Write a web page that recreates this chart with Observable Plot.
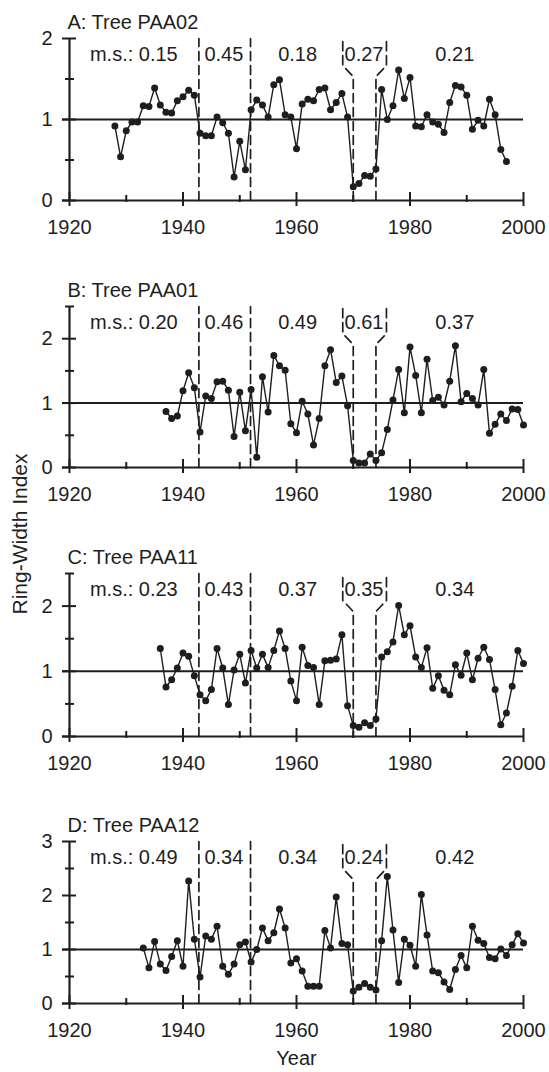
<!DOCTYPE html>
<html>
<head>
<meta charset="utf-8">
<script src="https://cdn.jsdelivr.net/npm/d3@7"></script>
<script src="https://cdn.jsdelivr.net/npm/@observablehq/plot@0.6"></script>
<style>
  html, body { margin: 0; padding: 0; background: #fff; }
  #wrap { position: relative; width: 549px; height: 1072px; overflow: hidden;
          font-family: "Liberation Sans", Arial, sans-serif; color: #222; }
  .panel { position: absolute; left: 0; }
  #ylab { position: absolute; left: 20px; top: 534px; transform: translate(-50%, -50%) rotate(-90deg);
          font-size: 21px; white-space: nowrap; color: #222; }
</style>
</head>
<body>
<div id="wrap"><div id="ylab">Ring-Width Index</div></div>
<script>
// ---- data ----
const startA = 1928;
const valuesA = [0.92,0.54,0.86,0.97,0.97,1.17,1.16,1.39,1.18,1.09,
                 1.08,1.23,1.28,1.36,1.30,0.83,0.80,0.80,1.03,0.96,
                 0.83,0.29,0.73,0.38,1.12,1.24,1.18,1.03,1.43,1.49,
                 1.06,1.03,0.64,1.19,1.25,1.23,1.37,1.39,1.12,1.21,
                 1.32,1.03,0.17,0.21,0.31,0.30,0.39,1.37,1.00,1.17,
                 1.61,1.26,1.52,0.92,0.91,1.06,0.97,0.94,0.84,1.21,
                 1.42,1.40,1.30,0.88,0.99,0.92,1.25,1.06,0.63,0.48];
const startB = 1937;
const valuesB = [0.87,0.76,0.80,1.19,1.47,1.24,0.55,1.11,1.07,1.33,
                 1.34,1.20,0.48,1.17,0.57,1.21,0.16,1.41,0.86,1.74,
                 1.58,1.51,0.68,0.54,1.03,0.83,0.35,0.76,1.58,1.83,
                 1.32,1.42,0.96,0.11,0.07,0.07,0.21,0.11,0.23,0.59,
                 1.05,1.52,0.85,1.87,1.43,0.85,1.68,1.04,1.09,0.97,
                 1.34,1.89,1.02,1.15,1.07,0.97,1.52,0.53,0.67,0.83,
                 0.73,0.91,0.90,0.66];
const startC = 1936;
const valuesC = [1.35,0.76,0.87,1.05,1.28,1.23,0.93,0.64,0.55,0.72,
                 1.35,1.05,0.49,1.02,1.26,0.82,1.32,1.05,1.26,1.06,
                 1.32,1.62,1.35,0.85,0.55,1.37,1.09,1.06,0.49,1.16,
                 1.17,1.19,1.56,0.47,0.17,0.14,0.21,0.17,0.27,1.22,
                 1.30,1.45,2.01,1.56,1.70,1.22,1.06,1.36,0.74,0.93,
                 0.71,0.64,1.10,0.94,1.28,0.87,1.20,1.37,1.18,0.72,
                 0.18,0.36,0.77,1.32,1.12];
const startD = 1933;
const valuesD = [1.03,0.66,1.15,0.73,0.61,0.87,1.16,0.69,2.27,1.19,
                 0.49,1.25,1.19,1.43,0.69,0.54,0.73,1.09,1.14,0.77,
                 1.00,1.40,1.16,1.31,1.75,1.40,0.75,0.83,0.60,0.32,
                 0.32,0.32,1.35,1.03,1.97,1.11,1.09,0.23,0.30,0.37,
                 0.30,0.25,1.16,2.35,1.36,0.39,1.19,1.08,0.69,2.02,
                 1.27,0.60,0.57,0.40,0.26,0.63,0.89,0.66,1.43,1.17,
                 1.11,0.85,0.83,1.01,0.89,1.09,1.29,1.12];

const titles = ["A: Tree PAA02", "B: Tree PAA01", "C: Tree PAA11", "D: Tree PAA12"];
const msA = ["m.s.: 0.15", "0.45", "0.18", "0.27", "0.21"];
const msB = ["m.s.: 0.20", "0.46", "0.49", "0.61", "0.37"];
const msC = ["m.s.: 0.23", "0.43", "0.37", "0.35", "0.34"];
const msD = ["m.s.: 0.49", "0.34", "0.34", "0.24", "0.42"];
const msYears = [1923.6, 1947.2, 1960.2, 1971.9, 1987.9];
const boundaryYears = [1942.8, 1951.9, 1970, 1974];
const xMajor = [1920, 1940, 1960, 1980, 2000];
const xMinor = [1930, 1950, 1970, 1990];
const yMaxes = [2, 2.5, 2.5, 3];
const yMajorA = [0, 1, 2], yMinorA = [0.5, 1.5];
const yMajorB = [0, 1, 2], yMinorB = [0.5, 1.5, 2.5];
const yMajorC = [0, 1, 2], yMinorC = [0.5, 1.5, 2.5];
const yMajorD = [0, 1, 2, 3], yMinorD = [0.5, 1.5, 2.5];

// ---- layout (pixels) ----
const layouts = [
  {svgTop: 0,   top: 38,  zero: 200,  height: 267},
  {svgTop: 267, top: 306, zero: 467,  height: 267},
  {svgTop: 534, top: 573, zero: 736,  height: 267},
  {svgTop: 801, top: 841, zero: 1003, height: 271}
];
const INK = "#1e1e1e";

function makePanel(k, start, values, ms, yMajor, yMinor, withYear) {
  const L = layouts[k];
  const yMax = yMaxes[k];
  const ppu = (L.zero - L.top) / yMax;
  const ppy = (523 - 69) / 80;
  const series = values.map((v, i) => ({year: start + i, v}));
  // dashed boundary lines; the middle pair forms a widening bracket near the top
  const dash = [];
  boundaryYears.forEach((b, j) => {
    if (j === 2 || j === 3) {
      const s = j === 2 ? -1 : 1;
      const off = s * 10.5 / ppy;
      dash.push({id: j, x: b, y: 0});
      dash.push({id: j, x: b, y: yMax - 38 / ppu});
      dash.push({id: j, x: b + off, y: yMax - 27 / ppu});
      dash.push({id: j, x: b + off, y: yMax - 1 / ppu});
    } else {
      dash.push({id: j, x: b, y: 0});
      dash.push({id: j, x: b, y: yMax});
    }
  });
  const msFirst = [{x: msYears[0], t: ms[0]}];
  const msRest = ms.slice(1).map((t, i) => ({x: msYears[i + 1], t}));

  const marks = [
    Plot.axisX({ticks: xMajor, tickSize: 0, tickPadding: 19, label: null, tickFormat: d => String(d)}),
    Plot.axisY({ticks: yMajor, tickSize: 0, tickPadding: 17, label: null, tickFormat: d => String(d)}),
    Plot.line(dash, {x: "x", y: "y", z: "id", stroke: INK, strokeWidth: 1.7, strokeDasharray: "9,5"}),
    Plot.ruleY([0, 1], {x1: 1920, x2: 2000, insetLeft: -7, stroke: INK, strokeWidth: 2}),
    Plot.ruleX([1920], {y1: 0, y2: yMax, stroke: INK, strokeWidth: 2.2}),
    Plot.ruleY(yMajor, {x1: 1920, x2: 1920, insetLeft: -7, insetRight: -7, stroke: INK, strokeWidth: 2}),
    Plot.ruleY(yMinor, {x1: 1920, x2: 1920, insetLeft: -4, insetRight: -5, stroke: INK, strokeWidth: 2}),
    Plot.ruleX(xMajor, {y1: 0, y2: 0, insetTop: -8, insetBottom: -6, stroke: INK, strokeWidth: 2}),
    Plot.ruleX(xMinor, {y1: 0, y2: 0, insetTop: -5, insetBottom: -2, stroke: INK, strokeWidth: 2}),
    Plot.line(series, {x: "year", y: "v", stroke: INK, strokeWidth: 1.4}),
    Plot.dot(series, {x: "year", y: "v", r: 3.5, fill: INK, stroke: "none"}),
    Plot.text(msFirst, {x: "x", text: "t", frameAnchor: "top", dy: 16, lineAnchor: "middle", textAnchor: "start", fill: INK}),
    Plot.text(msRest, {x: "x", text: "t", frameAnchor: "top", dy: 16, lineAnchor: "middle", textAnchor: "middle", fill: INK}),
    Plot.text([titles[k]], {text: d => d, frameAnchor: "top-left", dx: -2, dy: -16, lineAnchor: "middle", textAnchor: "start", fill: INK})
  ];
  if (withYear) {
    marks.push(Plot.text(["Year"], {text: d => d, frameAnchor: "bottom", dy: 55, lineAnchor: "middle", fill: INK}));
  }
  const svg = Plot.plot({
    width: 549,
    height: L.height,
    marginLeft: 69,
    marginRight: 26,
    marginTop: L.top - L.svgTop,
    marginBottom: L.svgTop + L.height - L.zero,
    x: {domain: [1920, 2000], label: null},
    y: {domain: [0, yMax], label: null},
    style: {fontFamily: "'Liberation Sans', Arial, sans-serif", fontSize: "20px", color: INK, background: "transparent", overflow: "visible"},
    marks
  });
  const holder = document.createElement("div");
  holder.className = "panel";
  holder.style.top = L.svgTop + "px";
  holder.appendChild(svg);
  document.getElementById("wrap").appendChild(holder);
}

makePanel(0, startA, valuesA, msA, yMajorA, yMinorA, false);
makePanel(1, startB, valuesB, msB, yMajorB, yMinorB, false);
makePanel(2, startC, valuesC, msC, yMajorC, yMinorC, false);
makePanel(3, startD, valuesD, msD, yMajorD, yMinorD, true);
</script>
</body>
</html>
